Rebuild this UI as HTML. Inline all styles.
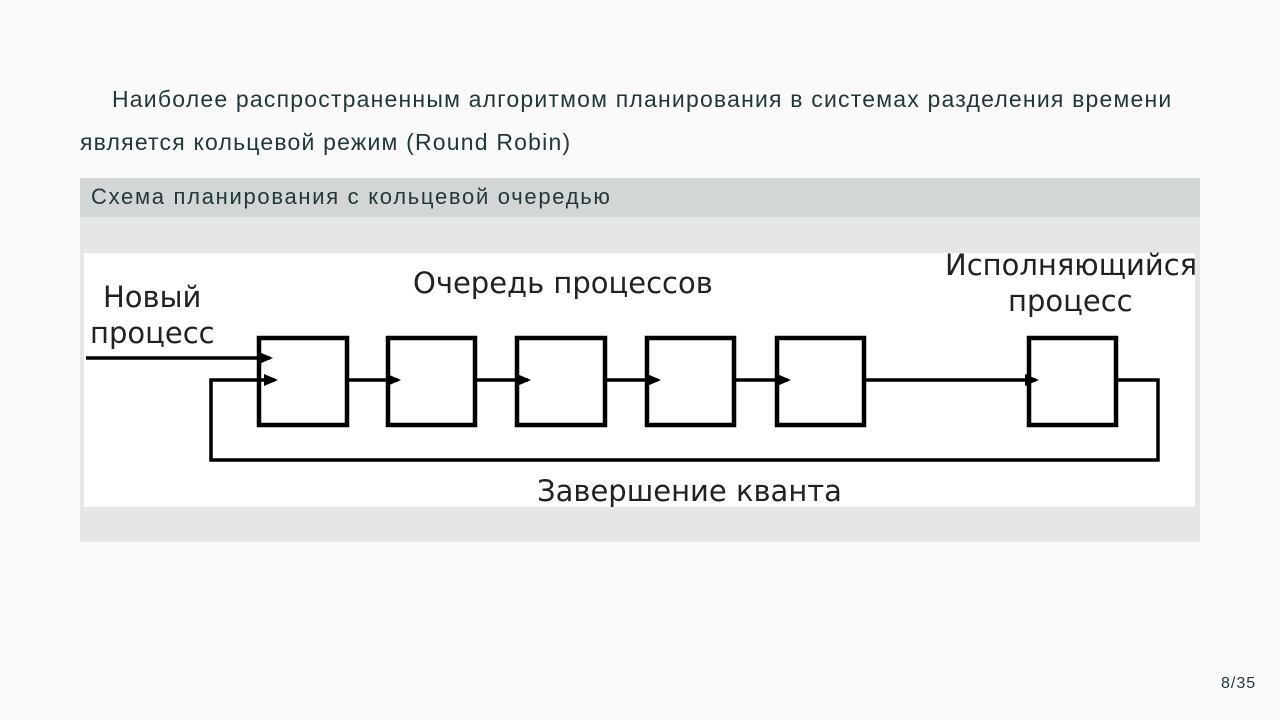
<!DOCTYPE html>
<html><head><meta charset="utf-8"><style>
body{margin:0;width:1280px;height:720px;background:#fafafa;position:relative;overflow:hidden;font-family:"Liberation Sans","DejaVu Sans",sans-serif;color:#23373b}
.t{position:absolute;font-size:23px;white-space:nowrap}
</style></head><body>
<div class="t" style="left:112px;top:86px;letter-spacing:1.2px">Наиболее распространенным алгоритмом планирования в системах разделения времени</div>
<div class="t" style="left:80px;top:129px;letter-spacing:1.2px">является кольцевой режим (Round Robin)</div>
<div style="position:absolute;left:80px;top:178px;width:1120px;height:39px;background:#d3d6d7"></div>
<div class="t" style="left:91px;top:184px;font-size:22px;letter-spacing:1.7px">Схема планирования с кольцевой очередью</div>
<div style="position:absolute;left:80px;top:217px;width:1120px;height:325px;background:#e5e6e6"></div>
<svg style="position:absolute;left:0;top:0" width="1280" height="720">
<defs><marker id="a" markerWidth="14" markerHeight="14" refX="11" refY="6" orient="auto" markerUnits="userSpaceOnUse"><path d="M0,0L14,6L0,12z" fill="#000"/></marker></defs>
<rect x="84" y="253" width="1111" height="254" fill="#fff"/>
<g fill="none" stroke="#000" stroke-width="4.5">
<rect x="259" y="338" width="88" height="87"/>
<rect x="388" y="338" width="87" height="87"/>
<rect x="517" y="338" width="88" height="87"/>
<rect x="647" y="338" width="87" height="87"/>
<rect x="777" y="338" width="87" height="87"/>
<rect x="1029" y="338" width="87" height="87"/>
</g>
<g stroke="#000" stroke-width="3.5" fill="none" marker-end="url(#a)">
<path d="M86,358H270"/>
<path d="M1116,380H1158V460H211V380H275"/>
<path d="M347,380H398"/>
<path d="M475,380H528"/>
<path d="M605,380H658"/>
<path d="M734,380H788"/>
<path d="M864,380H1036"/>
</g>
<g font-family="DejaVu Sans" font-size="29" fill="#222">
<text x="103" y="307">Новый</text>
<text x="90" y="343">процесс</text>
<text x="413" y="293">Очередь процессов</text>
<text x="945" y="275">Исполняющийся</text>
<text x="1008" y="311">процесс</text>
<text x="537" y="501">Завершение кванта</text>
</g>
</svg>
<div class="t" style="left:1221px;top:675px;font-size:16px;letter-spacing:1px">8/35</div>
</body></html>
